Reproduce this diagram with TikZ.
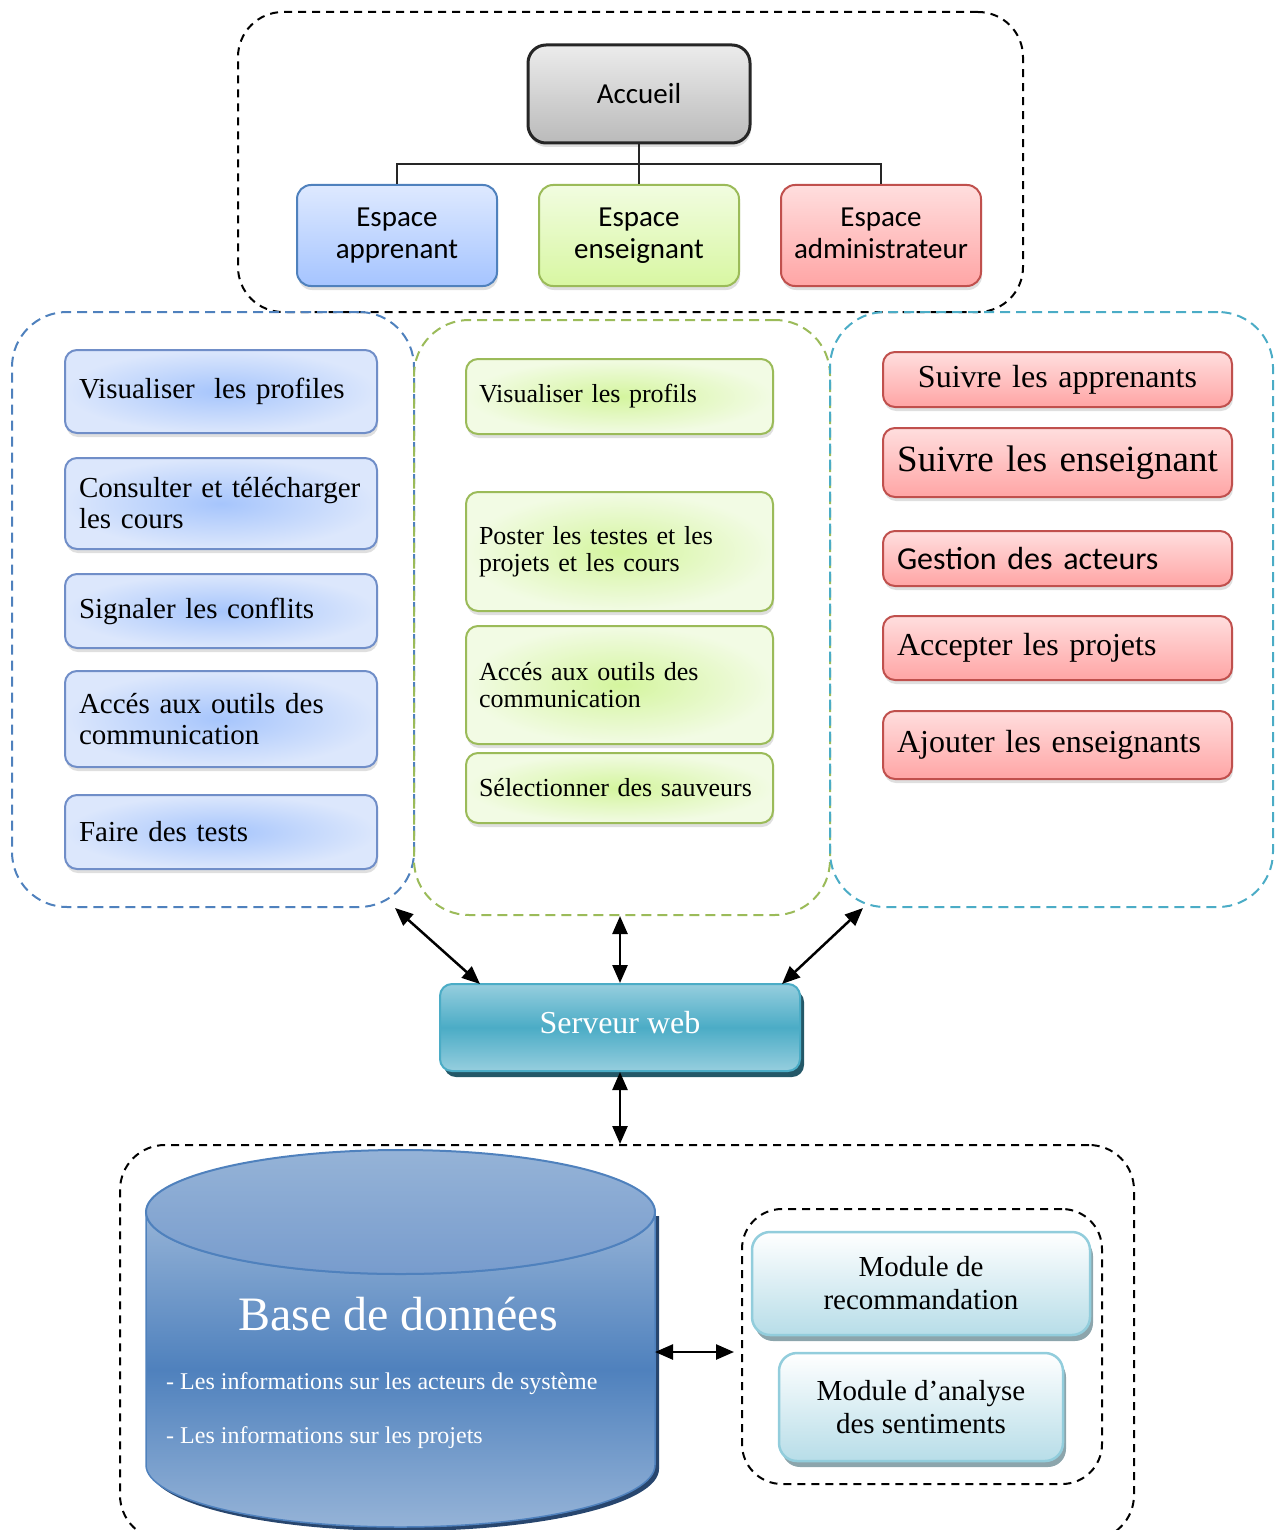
\documentclass[tikz,border=0pt]{standalone}
\usepackage{fontspec}
\setmainfont{Liberation Serif}
\newfontfamily\calibri{Carlito}
\usetikzlibrary{arrows.meta,shadows}
\newcommand\setfz[2]{\fontsize{#1}{#2}\selectfont}
\definecolor{accTop}{RGB}{236,236,236}
\definecolor{accBot}{RGB}{186,186,186}
\definecolor{bluBord}{RGB}{79,129,189}
\definecolor{bluTop}{RGB}{222,233,255}
\definecolor{bluBot}{RGB}{165,196,255}
\definecolor{grnBord}{RGB}{155,187,89}
\definecolor{grnTop}{RGB}{241,252,224}
\definecolor{grnBot}{RGB}{216,247,162}
\definecolor{redBord}{RGB}{192,80,77}
\definecolor{redTop}{RGB}{255,222,222}
\definecolor{redBot}{RGB}{255,165,165}
\definecolor{itBluBord}{RGB}{112,142,200}
\definecolor{itBluIn}{RGB}{166,197,252}
\definecolor{itBluOut}{RGB}{220,231,252}
\definecolor{itGrnIn}{RGB}{212,245,158}
\definecolor{itGrnOut}{RGB}{242,251,228}
\definecolor{cyanBord}{RGB}{75,172,198}
\definecolor{srvLight}{RGB}{150,206,222}
\definecolor{srvDark}{RGB}{36,88,104}
\definecolor{dbLight}{RGB}{149,179,215}
\definecolor{dbMid}{RGB}{79,129,189}
\definecolor{dbTopBot}{RGB}{120,156,205}
\definecolor{dbDark}{RGB}{40,70,110}
\definecolor{modBord}{RGB}{146,205,220}
\definecolor{modBot}{RGB}{183,221,232}
\definecolor{modShad}{RGB}{140,165,172}
\begin{document}
\begin{tikzpicture}[x=1pt,y=-1pt,
  dashblack/.style={draw=black, line width=2pt, dash pattern=on 8pt off 6pt, rounded corners=45pt, inner sep=0pt},
  dashcol/.style={draw=#1, line width=2pt, dash pattern=on 10pt off 6pt, rounded corners=55pt, inner sep=0pt},
  softshadow/.style={drop shadow={shadow xshift=1pt, shadow yshift=-4pt, opacity=.25}},
  accbox/.style={softshadow, rounded corners=18pt, draw=black!85, line width=3pt, top color=accTop, bottom color=accBot,
    minimum width=222pt, minimum height=98pt, font={\calibri\setfz{29}{32}}},
  espbox/.style={softshadow, rounded corners=14pt, line width=2pt, minimum width=200pt, minimum height=101pt,
    inner sep=0pt, align=center, font={\calibri\setfz{29}{32}}},
  lefttask/.style={softshadow, rounded corners=12pt, line width=2pt, draw=itBluBord, inner color=itBluIn, outer color=itBluOut,
    inner xsep=14pt, inner ysep=0pt, text width=284pt, align=left, font=\setfz{29}{31}},
  midtask/.style={softshadow, rounded corners=12pt, line width=2pt, draw=grnBord, inner color=itGrnIn, outer color=itGrnOut,
    inner xsep=13pt, inner ysep=0pt, text width=281pt, align=left, font=\setfz{26}{27}},
  righttask/.style={softshadow, rounded corners=12pt, line width=2pt, draw=redBord, top color=redTop, bottom color=redBot,
    inner xsep=14pt, inner ysep=0pt, text width=321pt, align=left, font=\setfz{32}{34}},
  srvbox/.style={rounded corners=12pt, draw=cyanBord, line width=2pt, top color=srvLight, bottom color=srvLight, middle color=cyanBord,
    minimum width=360pt, minimum height=87pt, text=white, font=\setfz{32}{34},
    drop shadow={shadow xshift=4pt, shadow yshift=-6pt, opacity=1, fill=srvDark}},
  modbox/.style={rounded corners=18pt, draw=modBord, line width=2.5pt, top color=white, bottom color=modBot,
    align=center, inner sep=0pt, font=\setfz{29}{33},
    drop shadow={shadow xshift=3pt, shadow yshift=-6pt, opacity=1, fill=modShad}},
  tree/.style={line width=2pt, black!85},
  dblarr/.style={{Triangle[length=18pt,width=15pt]}-{Triangle[length=18pt,width=15pt]}, line width=2.5pt}]
\useasboundingbox (0,0) rectangle (1275,1530);

% containers
\node[dashblack, minimum width=785pt, minimum height=300pt] (topbox) at (630.5,162) {};
\node[dashcol=bluBord, minimum width=402pt, minimum height=595pt] (leftbox) at (213,609.5) {};
\node[dashcol=grnBord, minimum width=416pt, minimum height=595pt] (midbox) at (622,617.5) {};
\node[dashcol=cyanBord, minimum width=443pt, minimum height=595pt] (rightbox) at (1051.5,609.5) {};
\node[dashblack, minimum width=1014pt, minimum height=395pt] (botbox) at (627,1342.5) {};
\node[dashblack, rounded corners=40pt, minimum width=360pt, minimum height=275pt] (modgrp) at (922,1346.5) {};

% accueil
\node[accbox] (acc) at (639,94) {Accueil};
\node[espbox, draw=bluBord, top color=bluTop, bottom color=bluBot] (ea) at (397,235.5) {Espace\\apprenant};
\node[espbox, draw=grnBord, top color=grnTop, bottom color=grnBot] (ee) at (639,235.5) {Espace\\enseignant};
\node[espbox, draw=redBord, top color=redTop, bottom color=redBot] (ead) at (881,235.5) {Espace\\administrateur\vphantom{p}};
\coordinate (hub) at (639,164);
\draw[tree] (acc.south) -- (hub);
\draw[tree] (hub) -| (ea.north);
\draw[tree] (hub) -- (ee.north);
\draw[tree] (hub) -| (ead.north);

% apprenant
\node[lefttask, minimum height=83pt] (l1) at (221,391.5) {Visualiser\ \ les profiles};
\node[lefttask, minimum height=91pt] (l2) at (221,503.5) {Consulter et télécharger\\les cours};
\node[lefttask, minimum height=74pt] (l3) at (221,611) {Signaler les conflits};
\node[lefttask, minimum height=96pt] (l4) at (221,719) {Accés aux outils des\\communication};
\node[lefttask, minimum height=74pt] (l5) at (221,832) {Faire des tests};

% enseignant
\node[midtask, minimum height=75pt] (m1) at (619.5,396.5) {Visualiser les profils};
\node[midtask, minimum height=119pt] (m2) at (619.5,551.5) {Poster les testes et les\\projets et les cours};
\node[midtask, minimum height=118pt] (m3) at (619.5,685) {Accés aux outils des\\communication};
\node[midtask, minimum height=70pt] (m4) at (619.5,788) {Sélectionner des sauveurs};

% administrateur
\node[righttask, minimum height=55pt, align=center] (r1) at (1057.5,379.5) {Suivre les apprenants};
\node[righttask, minimum height=69pt, align=center, font=\setfz{37}{39}] (r2) at (1057.5,462.5) {Suivre les enseignant};
\node[righttask, minimum height=55pt, font={\calibri\setfz{32}{34}}] (r3) at (1057.5,558.5) {Gestion des acteurs};
\node[righttask, minimum height=64pt] (r4) at (1057.5,648) {Accepter les projets};
\node[righttask, minimum height=68pt] (r5) at (1057.5,745) {Ajouter les enseignants};

% serveur
\node[srvbox] (srv) at (620,1027.5) {\raisebox{10pt}{Serveur web}};
\coordinate (la) at (395,908);
\coordinate (sl) at (480,984);
\coordinate (ra) at (863,908);
\coordinate (sr) at (782,984);
\draw[dblarr] (la) -- (sl);
\draw[dblarr] (midbox.south -| srv.north) -- (srv.north);
\draw[dblarr] (ra) -- (sr);
\draw[dblarr] (srv.south) -- (srv.south |- botbox.north);

% base de donnees
\fill[dbDark] (150,1216) -- (150,1469) arc[start angle=180,end angle=0,x radius=254.5,y radius=62] -- (659,1216) -- cycle;
\shade[top color=dbLight, bottom color=dbLight, middle color=dbMid, draw=dbMid, line width=1.5pt]
  (146,1212) -- (146,1465) arc[start angle=180,end angle=0,x radius=254.5,y radius=62]
  -- (655,1212) arc[start angle=0,end angle=180,x radius=254.5,y radius=62] -- cycle;
\shade[top color=dbLight, bottom color=dbTopBot, draw=dbMid, line width=2pt] (400.5,1212) ellipse[x radius=254.5,y radius=62];
\node[anchor=base, text=white, font=\setfz{48}{50}] (db) at (398,1330) {Base de données};
\node[anchor=base west, inner sep=0pt, text=white, font=\setfz{24}{26}] (db1) at (166,1389) {- Les informations sur les acteurs de système};
\node[anchor=base west, inner sep=0pt, text=white, font=\setfz{24}{26}] (db2) at (166,1443) {- Les informations sur les projets};
\coordinate (dbr) at (655,1352);

% modules
\node[modbox, minimum width=338pt, minimum height=103pt] (rec) at (921,1283.5) {Module de\\recommandation};
\node[modbox, minimum width=284pt, minimum height=108pt] (sent) at (921,1407) {Module d’analyse\\des sentiments};
\draw[dblarr, shorten >=7pt] (dbr) -- (dbr -| modgrp.west);
\end{tikzpicture}
\end{document}
